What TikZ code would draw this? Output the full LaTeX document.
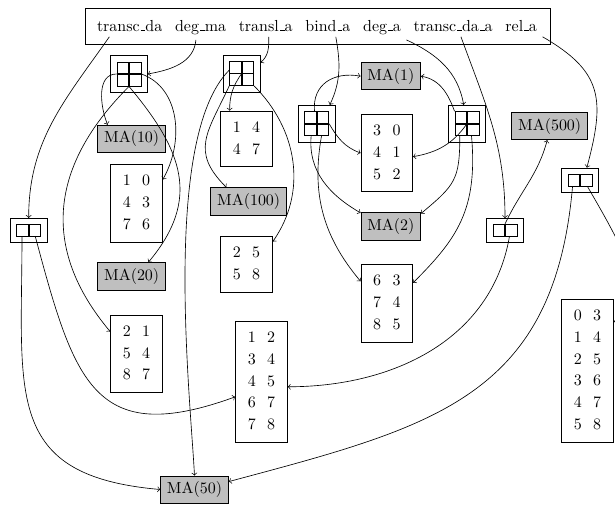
\documentclass[tikz,border=0pt]{standalone}
\setlength{\tabcolsep}{3.6pt}
\renewcommand{\arraystretch}{1.14}
\newcommand{\cellrows}[1]{\begin{tabular}{cc}#1\end{tabular}}
\newcommand{\us}{\leavevmode\kern.06em\vbox{\hrule width.3em}}

\begin{document}
\begin{tikzpicture}[
  lbl/.style={anchor=base},
  ma/.style={draw, fill=black!25, inner xsep=4pt, inner ysep=3.5pt},
  tbl/.style={draw, inner xsep=4pt, inner ysep=3.7pt},
  quad/.style={draw, minimum size=23pt, inner sep=0pt},
  quadin/.style={draw, line width=0.6pt, minimum size=15pt, inner sep=0pt,
    path picture={\draw[line width=1.2pt]
      (path picture bounding box.north) -- (path picture bounding box.south)
      (path picture bounding box.west) -- (path picture bounding box.east);}},
  pair/.style={draw, minimum width=23pt, minimum height=15pt, inner sep=0pt},
  pairin/.style={draw, line width=0.6pt, minimum width=15pt, minimum height=7.5pt, inner sep=0pt,
    path picture={\draw[line width=1.2pt]
      (path picture bounding box.north) -- (path picture bounding box.south);}}]
  \useasboundingbox (0,0) rectangle (13.530,11.088);

  \node[draw, minimum width=10.219cm, minimum height=0.792cm, inner sep=0pt] (hdr) at (6.991,10.516) {};
  \node[lbl] (tda) at (2.853,10.406) {transc\us da};
  \node[lbl] (dma) at (4.413,10.406) {deg\us ma};
  \node[lbl] (tla) at (5.845,10.406) {transl\us a};
  \node[lbl] (bda) at (7.214,10.406) {bind\us a};
  \node[lbl] (dga) at (8.404,10.406) {deg\us a};
  \node[lbl] (tdaa) at (9.968,10.406) {transc\us da\us a};
  \node[lbl] (rla) at (11.466,10.406) {rel\us a};

  \node[quad] (q1) at (2.838,9.460) {};
  \node[quadin] (q1i) at (q1) {};
  \node[quad] (q2) at (5.317,9.471) {};
  \node[quadin] (q2i) at (q2) {};
  \node[quad] (q3) at (6.967,8.367) {};
  \node[quadin] (q3i) at (q3) {};
  \node[quad] (q4) at (10.274,8.367) {};
  \node[quadin] (q4i) at (q4) {};
  \node[pair] (p1) at (0.631,6.021) {};
  \node[pairin] (p1i) at (p1) {};
  \node[pair] (p2) at (11.110,6.017) {};
  \node[pairin] (p2i) at (p2) {};
  \node[pair] (p3) at (12.760,7.128) {};
  \node[pairin] (p3i) at (p3) {};

  \node[ma] (ma10) at (2.897,8.037) {MA(10)};
  \node[ma] (ma20) at (2.897,5.009) {MA(20)};
  \node[ma] (ma100) at (5.471,6.659) {MA(100)};
  \node[ma] (ma1) at (8.598,9.412) {MA(1)};
  \node[ma] (ma2) at (8.598,6.109) {MA(2)};
  \node[ma] (ma500) at (12.093,8.312) {MA(500)};
  \node[ma] (ma50) at (4.279,0.319) {MA(50)};

  \node[tbl] (m10) at (3.003,6.618) {\cellrows{1 & 0\\ 4 & 3\\ 7 & 6}};
  \node[tbl] (m21) at (3.003,3.307) {\cellrows{2 & 1\\ 5 & 4\\ 8 & 7}};
  \node[tbl] (m14) at (5.423,8.034) {\cellrows{1 & 4\\ 4 & 7}};
  \node[tbl] (m25) at (5.423,5.269) {\cellrows{2 & 5\\ 5 & 8}};
  \node[tbl] (m30) at (8.510,7.722) {\cellrows{3 & 0\\ 4 & 1\\ 5 & 2}};
  \node[tbl] (m63) at (8.510,4.415) {\cellrows{6 & 3\\ 7 & 4\\ 8 & 5}};
  \node[tbl] (m12) at (5.753,2.691) {\cellrows{1 & 2\\ 3 & 4\\ 4 & 5\\ 6 & 7\\ 7 & 8}};
  \node[tbl] (m03) at (12.925,2.933) {\cellrows{0 & 3\\ 1 & 4\\ 2 & 5\\ 3 & 6\\ 4 & 7\\ 5 & 8}};

  \draw[->] (tda.-151) to[out=-125, in=90] (p1.north);
  \draw[->] (dma.-110) to[out=-95, in=10] (q1.east);
  \draw[->] (tla.-75) to[out=-88, in=40] (q2.30);
  \draw[->] (bda.-55) to[out=-80, in=65] (q3.55);
  \draw[->] (dga.south east) to[out=-25, in=100] (q4.100);
  \draw[->] (tdaa.-55) to[out=-70, in=90] (p2.north);
  \draw[->] (rla.south east) to[out=-30, in=75, looseness=1.3] (p3.61);

  \draw[->] (q1i.west) to[out=180, in=112] (ma10.150);
  \draw[->] (q1i.east) to[out=-20, in=60] (m10.42);
  \draw[->] (q1i.south) to[out=-50, in=50, looseness=1.2] (ma20.40);
  \draw[->] (q1i.south) to[out=-135, in=130, looseness=1.15] (m21.140);

  \draw[->] (q2i.center) to[out=-125, in=90] (m14.121);
  \draw[->] (q2i.south west) to[out=-115, in=135, looseness=1.3] (ma100.148);
  \draw[->] (q2i.south east) to[out=-45, in=55] (m25.41);
  \draw[->] (q2i.165) to[out=-135, in=93, out looseness=0.6, in looseness=0.5] (ma50.north);

  \draw[->] (q3i.100) to[out=95, in=170, looseness=1.2] (ma1.west);
  \draw[->] (q3i.east) to[out=-60, in=160] (m30.west);
  \draw[->] (q3i.-114) to[out=-95, in=150] (ma2.156);
  \draw[->] (q3i.-69) to[out=-100, in=130] (m63.140);

  \draw[->] (q4i.north west) to[out=110, in=-10] (ma1.east);
  \draw[->] (q4i.center) to[out=-125, in=10] (m30.-8);
  \draw[->] (q4i.-120) to[out=-90, in=40, looseness=1.3] (ma2.23);
  \draw[->] (q4i.-70) to[out=-85, in=45, out looseness=1.2] (m63.38);

  \draw[->] (p1i.-136) to[out=-90, in=175, looseness=1.4] (ma50.west);
  \draw[->] (p1i.-44) to[out=-75, in=-160, looseness=1.5] (m12.-150);
  \draw[->] (p2i.north) to[out=65, in=-105] (ma500.-100);
  \draw[->] (p2i.-56) to[out=-100, in=0] (m12.-11);
  \draw[->] (p3i.-139) to[out=-95, in=15, looseness=1.2] (ma50.13);
  \draw[->] (p3i.-41) to[out=-60, in=0] (m03.62);
\end{tikzpicture}
\end{document}
